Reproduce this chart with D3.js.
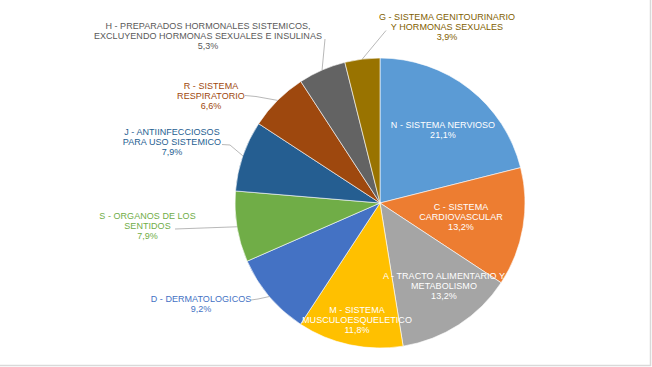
<!DOCTYPE html>
<html>
<head>
<meta charset="utf-8">
<script src="https://cdn.jsdelivr.net/npm/d3@7"></script>
<style>
  html, body { margin: 0; padding: 0; background: #fff; }
  svg { display: block; }
  text { font-family: "Liberation Sans", Arial, sans-serif; font-size: 9px; letter-spacing: 0.05px; }
</style>
</head>
<body>
<svg id="chart" width="652" height="367"></svg>
<script>
// ---- data ----
const categories = ["N", "C", "A", "M", "D", "S", "J", "R", "H", "G"];
const labelLines = [
  ["N - SISTEMA NERVIOSO"],
  ["C - SISTEMA", "CARDIOVASCULAR"],
  ["A - TRACTO ALIMENTARIO Y", "METABOLISMO"],
  ["M - SISTEMA", "MUSCULOESQUELETICO"],
  ["D - DERMATOLOGICOS"],
  ["S - ORGANOS DE LOS", "SENTIDOS"],
  ["J - ANTIINFECCIOSOS", "PARA USO SISTEMICO"],
  ["R - SISTEMA", "RESPIRATORIO"],
  ["H - PREPARADOS HORMONALES SISTEMICOS,", "EXCLUYENDO HORMONAS SEXUALES E INSULINAS"],
  ["G - SISTEMA GENITOURINARIO", "Y HORMONAS SEXUALES"]
];
const values = [21.1, 13.2, 13.2, 11.8, 9.2, 7.9, 7.9, 6.6, 5.3, 3.9];

// ---- styles / layout ----
const colors = ["#5B9BD5", "#ED7D31", "#A5A5A5", "#FFC000", "#4472C4", "#70AD47", "#255E91", "#9E480E", "#636363", "#997300"];
const labelColors = ["#ffffff", "#ffffff", "#ffffff", "#ffffff", "#4472C4", "#70AD47", "#255E91", "#9E480E", "#595959", "#7F6000"];
// label block: center x, first baseline y
const labelPos = {
  N: [443, 128], C: [461, 210], A: [444, 278.5], M: [357, 312.5],
  D: [201, 301.5], S: [147.5, 218.5], J: [172, 135], R: [211, 88.5],
  H: [208, 28.5], G: [447, 20]
};
// leader line start points (near label)
const leaderStart = {
  D: [[251, 300], [258, 299]], S: [[175, 229]], J: [[222, 144.5], [230, 145]],
  R: [[245, 95.5], [256, 96.5]], H: [[325, 39]], G: [[386, 30.5]]
};
const cx = 380, cy = 203, R = 145, lineH = 10;

const svg = d3.select("#chart");

// chart area border (right and bottom edges visible)
svg.append("line").attr("x1", 0).attr("x2", 651).attr("y1", 365.5).attr("y2", 365.5)
  .attr("stroke", "#d9d9d9").attr("stroke-width", 1.5);
svg.append("line").attr("x1", 650.5).attr("x2", 650.5).attr("y1", 0).attr("y2", 366)
  .attr("stroke", "#d9d9d9").attr("stroke-width", 1.5);

const pie = d3.pie().sort(null).value(d => d.v).startAngle(0).endAngle(2 * Math.PI);
const rows = categories.map((c, i) => ({ c, v: values[i], lines: labelLines[i], i }));
const arcs = pie(rows);
const arc = d3.arc().innerRadius(0).outerRadius(R);

const g = svg.append("g").attr("transform", `translate(${cx},${cy})`);
g.selectAll("path.slice").data(arcs).join("path")
  .attr("class", "slice")
  .attr("d", arc)
  .attr("fill", d => colors[d.data.i])
  .attr("stroke", "#ffffff")
  .attr("stroke-width", 0.6);

// leader lines
const fmt = v => d3.format(".1f")(v).replace(".", ",") + "%";
arcs.forEach(d => {
  const pts = leaderStart[d.data.c];
  if (!pts) return;
  const a = (d.startAngle + d.endAngle) / 2;
  const end = [cx + R * Math.sin(a), cy - R * Math.cos(a)];
  const all = pts.concat([end]);
  svg.append("path")
    .attr("d", d3.line()(all))
    .attr("fill", "none")
    .attr("stroke", "#a6a6a6")
    .attr("stroke-width", 0.8);
});

// labels
arcs.forEach(d => {
  const [x, y] = labelPos[d.data.c];
  const t = svg.append("text")
    .attr("text-anchor", "middle")
    .attr("fill", labelColors[d.data.i]);
  const lines = d.data.lines.concat([fmt(d.data.v)]);
  lines.forEach((s, k) => {
    t.append("tspan").attr("x", x).attr("y", y + k * lineH).text(s);
  });
});
</script>
</body>
</html>
